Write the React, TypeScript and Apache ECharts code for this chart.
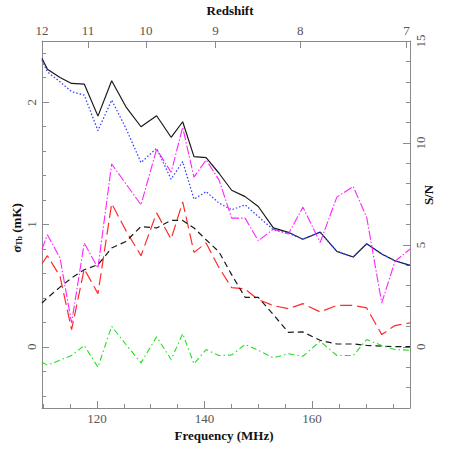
import React, { useEffect, useRef } from 'react';
import * as echarts from 'echarts';

// Frequency channels (MHz)
const freqMHz = [109.8, 110.8, 113.15, 115.3, 117.65, 120.2, 122.75, 125.4, 128.2, 131.1, 133.8, 135.95, 138.05, 140.3, 142.7, 145.05, 147.55, 150.0, 152.8, 155.6, 158.3, 161.5, 164.6, 167.65, 170.15, 172.95, 175.4, 178.2];

// sigma_Tb (mK) series
const sigmaSolid = [2.357, 2.27, 2.202, 2.153, 2.148, 1.886, 2.175, 1.962, 1.799, 1.889, 1.713, 1.84, 1.555, 1.546, 1.419, 1.28, 1.228, 1.147, 0.973, 0.936, 0.879, 0.938, 0.78, 0.734, 0.843, 0.759, 0.704, 0.666];
const sigmaDotted = [2.343, 2.248, 2.166, 2.085, 2.058, 1.767, 2.017, 1.786, 1.506, 1.623, 1.37, 1.514, 1.207, 1.269, 1.175, 1.12, 1.161, 1.065, 0.957, 0.93, 0.879, 0.938, 0.78, 0.734, 0.843, 0.759, 0.704, 0.666];
const sigmaMagenta = [0.799, 0.916, 0.726, 0.196, 0.848, 0.644, 1.495, 1.332, 1.161, 1.615, 1.427, 1.794, 1.387, 1.528, 1.365, 1.052, 1.052, 0.867, 0.962, 0.922, 1.142, 0.853, 1.224, 1.31, 1.059, 0.359, 0.698, 0.799];
const sigmaRed = [0.679, 0.745, 0.576, 0.141, 0.636, 0.435, 1.171, 0.95, 0.745, 1.095, 0.881, 1.185, 0.772, 0.848, 0.647, 0.484, 0.473, 0.386, 0.337, 0.312, 0.353, 0.285, 0.339, 0.339, 0.318, 0.1, 0.174, 0.196];
const sigmaGreen = [-0.126, -0.15, -0.108, -0.071, 0.011, -0.166, 0.168, 0.019, -0.131, 0.082, -0.104, 0.108, -0.139, -0.022, -0.071, -0.067, 0.019, -0.028, -0.09, -0.057, -0.077, 0.046, -0.071, -0.071, 0.06, 0.011, -0.022, -0.028];
// S/N (right axis)
const snDashed = [2.15, 2.4, 2.93, 3.38, 3.78, 4.03, 4.85, 5.17, 5.9, 5.83, 6.2, 6.2, 5.83, 5.25, 4.66, 3.54, 2.43, 2.43, 1.58, 0.71, 0.73, 0.32, 0.14, 0.14, 0.07, 0.03, 0.01, 0.01];

// Tick values
const redshiftTicks = [12, 11, 10, 9, 8, 7];
const freqMajorTicks = [120, 140, 160];
const freqMinorTicks = [110, 115, 125, 130, 135, 145, 150, 155, 165, 170, 175];
const sigmaMajorTicks = [0, 1, 2];
const sigmaMinorTicks = [-0.4, -0.2, 0.2, 0.4, 0.6, 0.8, 1.2, 1.4, 1.6, 1.8, 2.2, 2.4];
const snMajorTicks = [0, 5, 10, 15];
const snMinorTicks = [-3, -2, -1, 1, 2, 3, 4, 6, 7, 8, 9, 11, 12, 13, 14];

const F_MIN = 109.8;
const F_MAX = 178.2;
const NU21 = 1420.4;

const AXIS_COLOR = '#8a8a8a';
const LABEL_COLOR = '#555';
const TICK_FONT = 'Liberation Serif';

const pairs = (ys: number[]) => freqMHz.map((f, i) => [f, ys[i]]);

export default function App() {
  const ref = useRef<HTMLDivElement>(null);
  useEffect(() => {
    if (!ref.current) return;
    const chart = echarts.init(ref.current, undefined, { renderer: 'svg' });
    const zFreqs = redshiftTicks.map((z) => Math.min(F_MAX, Math.max(F_MIN, NU21 / (1 + z))));
    const lineAxis = { show: true, onZero: false, lineStyle: { color: AXIS_COLOR, width: 1 } };
    const noLine = { show: false, onZero: false };
    const labelStyle = { color: LABEL_COLOR, fontFamily: TICK_FONT, fontSize: 13 };
    const grid = { left: 42, right: 40, top: 41, bottom: 42 };

    const option: any = {
      animation: false,
      grid,
      xAxis: [
        {
          type: 'value', position: 'bottom', min: F_MIN, max: F_MAX,
          axisLine: lineAxis,
          splitLine: { show: false },
          axisTick: { show: true, inside: true, length: 7, customValues: freqMajorTicks, lineStyle: { color: AXIS_COLOR } },
          axisLabel: { show: true, customValues: freqMajorTicks, margin: 4, ...labelStyle },
        },
        {
          type: 'value', position: 'bottom', min: F_MIN, max: F_MAX,
          axisLine: noLine,
          splitLine: { show: false },
          axisTick: { show: true, inside: true, length: 4, customValues: freqMinorTicks, lineStyle: { color: AXIS_COLOR } },
          axisLabel: { show: false },
        },
        {
          type: 'value', position: 'top', min: F_MIN, max: F_MAX,
          axisLine: lineAxis,
          splitLine: { show: false },
          axisTick: { show: true, inside: true, length: 7, customValues: zFreqs, lineStyle: { color: AXIS_COLOR } },
          axisLabel: {
            show: true, customValues: zFreqs, margin: 4, ...labelStyle,
            formatter: (v: number) => String(Math.round(NU21 / v - 1)),
          },
        },
      ],
      yAxis: [
        {
          type: 'value', position: 'left', min: -0.5, max: 2.5,
          axisLine: lineAxis,
          splitLine: { show: false },
          axisTick: { show: true, inside: true, length: 7, customValues: sigmaMajorTicks, lineStyle: { color: AXIS_COLOR } },
          axisLabel: { show: true, customValues: sigmaMajorTicks, rotate: 90, margin: 4, ...labelStyle },
        },
        {
          type: 'value', position: 'right', min: -3, max: 15,
          axisLine: lineAxis,
          splitLine: { show: false },
          axisTick: { show: true, inside: true, length: 7, customValues: snMajorTicks, lineStyle: { color: AXIS_COLOR } },
          axisLabel: { show: true, customValues: snMajorTicks, rotate: 90, margin: 4, ...labelStyle },
        },
        {
          type: 'value', position: 'left', min: -0.5, max: 2.5,
          axisLine: noLine,
          splitLine: { show: false },
          axisTick: { show: true, inside: true, length: 4, customValues: sigmaMinorTicks, lineStyle: { color: AXIS_COLOR } },
          axisLabel: { show: false },
        },
        {
          type: 'value', position: 'right', min: -3, max: 15,
          axisLine: noLine,
          splitLine: { show: false },
          axisTick: { show: true, inside: true, length: 4, customValues: snMinorTicks, lineStyle: { color: AXIS_COLOR } },
          axisLabel: { show: false },
        },
      ],
      series: [
        { type: 'line', name: 'total', data: pairs(sigmaSolid), yAxisIndex: 0, symbol: 'none', lineStyle: { color: '#1a1a1a', width: 1.2, type: 'solid' } },
        { type: 'line', name: 'dotted', data: pairs(sigmaDotted), yAxisIndex: 0, symbol: 'none', lineStyle: { color: '#3344ff', width: 1.3, type: [1.5, 2] } },
        { type: 'line', name: 'magenta', data: pairs(sigmaMagenta), yAxisIndex: 0, symbol: 'none', lineStyle: { color: '#ff22ff', width: 1.1, type: [9, 2, 1.5, 2] } },
        { type: 'line', name: 'red', data: pairs(sigmaRed), yAxisIndex: 0, symbol: 'none', lineStyle: { color: '#ff2a2a', width: 1.2, type: [12, 5] } },
        { type: 'line', name: 'sn', data: pairs(snDashed), yAxisIndex: 1, symbol: 'none', lineStyle: { color: '#1a1a1a', width: 1.2, type: [6, 4] } },
        { type: 'line', name: 'green', data: pairs(sigmaGreen), yAxisIndex: 0, symbol: 'none', lineStyle: { color: '#22dd22', width: 1.1, type: [6, 3, 1.5, 3] } },
      ],
      graphic: [
        {
          type: 'text', x: 230, y: 10,
          style: { text: 'Redshift', font: 'bold 13px "Liberation Serif"', fill: '#111', align: 'center', verticalAlign: 'middle' },
        },
        {
          type: 'text', x: 224, y: 435,
          style: { text: 'Frequency (MHz)', font: 'bold 13px "Liberation Serif"', fill: '#111', align: 'center', verticalAlign: 'middle' },
        },
        {
          type: 'text', x: 16, y: 228, rotation: Math.PI / 2,
          style: {
            text: '{a|σ}{b|Tb}{a| (mK)}', align: 'center', verticalAlign: 'middle',
            rich: {
              a: { font: 'bold 13px "Liberation Serif"', fill: '#111' },
              b: { font: 'bold 8px "Liberation Serif"', fill: '#111', padding: [6, 0, 0, 0] },
            },
          },
        },
        {
          type: 'text', x: 428, y: 195, rotation: Math.PI / 2,
          style: { text: 'S/N', font: 'bold 13px "Liberation Serif"', fill: '#111', align: 'center', verticalAlign: 'middle' },
        },
      ],
    };
    chart.setOption(option);
    return () => chart.dispose();
  }, []);
  return <div ref={ref} style={{ position: 'fixed', left: 0, top: 0, width: 450, height: 450, background: '#fff' }} />;
}
